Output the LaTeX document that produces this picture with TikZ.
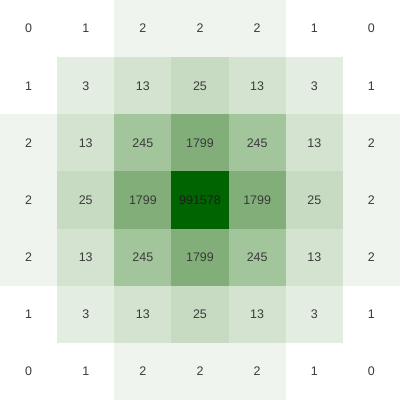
\documentclass[tikz,border=0pt]{standalone}
\usepackage{fontspec}
\setmainfont{Liberation Sans}
\definecolor{txt}{HTML}{3A3A3A}
\definecolor{txtdark}{HTML}{1E1E1E}
\definecolor{vA}{HTML}{FFFFFF}
\definecolor{vB}{HTML}{EFF4EE}
\definecolor{vC}{HTML}{E4EDE1}
\definecolor{vD}{HTML}{D3E3CF}
\definecolor{vE}{HTML}{C6DBC1}
\definecolor{vF}{HTML}{A2C59C}
\definecolor{vG}{HTML}{82AE7A}
\definecolor{vH}{HTML}{006400}
\begin{document}
\begin{tikzpicture}[x=1cm,y=-1cm,
  cellbox/.style={minimum size=1cm,inner sep=0pt,outer sep=0pt,draw=none,font=\fontsize{6.2}{7}\selectfont,text=txt}]
\useasboundingbox (0,0) rectangle (7,7);
\foreach \r/\row in {0/{0/vA/txt,1/vA/txt,2/vB/txt,2/vB/txt,2/vB/txt,1/vA/txt,0/vA/txt},
                     1/{1/vA/txt,3/vC/txt,13/vD/txt,25/vE/txt,13/vD/txt,3/vC/txt,1/vA/txt},
                     2/{2/vB/txt,13/vD/txt,245/vF/txt,1799/vG/txt,245/vF/txt,13/vD/txt,2/vB/txt},
                     3/{2/vB/txt,25/vE/txt,1799/vG/txt,991578/vH/txtdark,1799/vG/txt,25/vE/txt,2/vB/txt},
                     4/{2/vB/txt,13/vD/txt,245/vF/txt,1799/vG/txt,245/vF/txt,13/vD/txt,2/vB/txt},
                     5/{1/vA/txt,3/vC/txt,13/vD/txt,25/vE/txt,13/vD/txt,3/vC/txt,1/vA/txt},
                     6/{0/vA/txt,1/vA/txt,2/vB/txt,2/vB/txt,2/vB/txt,1/vA/txt,0/vA/txt}}{
  \foreach \v/\p/\t [count=\c from 0] in \row {
    \node[cellbox,fill=\p,text=\t] (c\r\c) at (\c+0.5,\r+0.5) {\v};
  }
}
\end{tikzpicture}
\end{document}
